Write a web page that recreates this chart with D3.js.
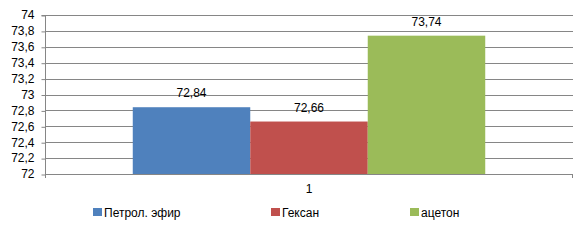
<!DOCTYPE html>
<html><head><meta charset="utf-8">
<script src="https://cdn.jsdelivr.net/npm/d3@7"></script>
<style>body{margin:0;background:#fff}svg{display:block;font-family:"Liberation Sans",Arial,sans-serif}</style>
</head><body><svg id="c" width="588" height="240"></svg>
<script>
const categories = ["1"];
const seriesNames = ["Петрол. эфир", "Гексан", "ацетон"];
const seriesValues = [72.84, 72.66, 73.74];
const seriesLabels = ["72,84", "72,66", "73,74"];
const yTicks = [72, 72.2, 72.4, 72.6, 72.8, 73, 73.2, 73.4, 73.6, 73.8, 74];
const colors = ["#4f81bd", "#c0504d", "#9bbb59"];

const svg = d3.select("#c");
const L = 45, R = 573, T = 15, B = 174;
const y = d3.scaleLinear().domain([72, 74]).range([B, T]);
const x0 = d3.scaleBand().domain(categories).range([L, R]).paddingInner(0).paddingOuter(0);
const x1 = d3.scaleBand().domain(seriesNames).range([0, x0.bandwidth()]).paddingInner(0).paddingOuter(0.747);
const fmt = d => String(+d.toFixed(1)).replace(".", ",");

// gridlines
svg.append("g").selectAll("line").data(yTicks).join("line")
  .attr("x1", L).attr("x2", R).attr("y1", d => Math.round(y(d)) + 0.5).attr("y2", d => Math.round(y(d)) + 0.5)
  .attr("stroke", "#868686").attr("stroke-width", 1);

// y axis
const ya = svg.append("g").attr("transform", `translate(${L + 0.5},0)`)
  .call(d3.axisLeft(y).tickValues(yTicks).tickFormat(fmt).tickSize(4).tickPadding(7));
ya.select(".domain").attr("stroke", "#868686").attr("d", `M-4,${T}.5H0V${B + 4}`);
ya.selectAll(".tick line").attr("stroke", "#868686");
ya.selectAll(".tick line").attr("transform", "translate(0,0.5)");
ya.selectAll("text").attr("font-size", 12).attr("fill", "#000").attr("font-family", "Liberation Sans, Arial, sans-serif");

// bars
const g = svg.append("g");
g.selectAll("rect").data(seriesValues).join("rect")
  .attr("x", (d, i) => x0(categories[0]) + x1(seriesNames[i]))
  .attr("width", x1.bandwidth())
  .attr("y", d => y(d)).attr("height", d => y(72) - y(d))
  .attr("fill", (d, i) => colors[i]);

// x axis
const xa = svg.append("g").attr("transform", `translate(0,${B + 0.5})`)
  .call(d3.axisBottom(x0).tickSize(0).tickPadding(10));
xa.select(".domain").attr("stroke", "#868686").attr("d", `M${L},0H${R}`);
xa.selectAll("text").attr("font-size", 12).attr("fill", "#000").attr("font-family", "Liberation Sans, Arial, sans-serif");
svg.append("line").attr("x1", R - 0.5).attr("x2", R - 0.5).attr("y1", B).attr("y2", B + 4).attr("stroke", "#868686");

// data labels
g.selectAll("text").data(seriesValues).join("text")
  .attr("x", (d, i) => x0(categories[0]) + x1(seriesNames[i]) + x1.bandwidth() / 2)
  .attr("y", d => y(d) - 10)
  .attr("text-anchor", "middle").attr("font-size", 12).attr("fill", "#000")
  .text((d, i) => seriesLabels[i]);

// legend
const legX = [93, 271, 410];
const lg = svg.append("g");
seriesNames.forEach((n, i) => {
  lg.append("rect").attr("x", legX[i]).attr("y", 208).attr("width", 9).attr("height", 8).attr("fill", colors[i]);
  lg.append("text").attr("x", legX[i] + 11).attr("y", 216.5).attr("font-size", 12).attr("fill", "#000").text(n);
});
</script></body></html>
